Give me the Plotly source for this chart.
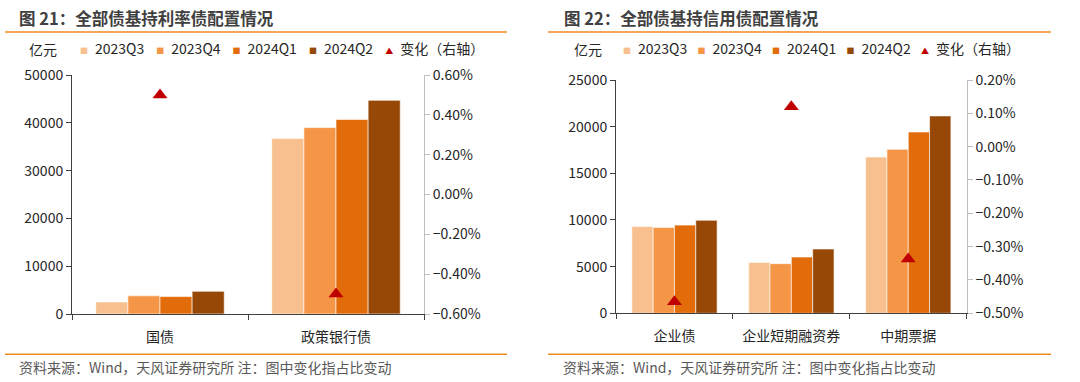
import plotly.graph_objects as go

# ---------------- data ----------------
periods = ["2023Q3", "2023Q4", "2024Q1", "2024Q2"]
colors = ["#F8C08E", "#F59646", "#E36C0A", "#974807"]
change_name = "变化（右轴）"

rate_cats = ["国债", "政策银行债"]
rate_2023Q3 = [2500, 36700]
rate_2023Q4 = [3800, 39000]
rate_2024Q1 = [3650, 40700]
rate_2024Q2 = [4750, 44700]
rate_change = [0.0050, -0.0050]

credit_cats = ["企业债", "企业短期融资券", "中期票据"]
credit_2023Q3 = [9300, 5450, 16750]
credit_2023Q4 = [9200, 5320, 17570]
credit_2024Q1 = [9450, 6030, 19430]
credit_2024Q2 = [9970, 6890, 21150]
credit_change = [-0.00465, 0.0012, -0.00337]

left_ticks = [0, 10000, 20000, 30000, 40000, 50000]
right_ticks_rate = [-0.006, -0.004, -0.002, 0, 0.002, 0.004, 0.006]
right_ticks_credit = [-0.005, -0.004, -0.003, -0.002, -0.001, 0, 0.001, 0.002]
left_ticks_credit = [0, 5000, 10000, 15000, 20000, 25000]

FONT = "Noto Sans CJK SC"
TXT = "#262626"
RED = "#C00000"

fig = go.Figure()

rate_series = [rate_2023Q3, rate_2023Q4, rate_2024Q1, rate_2024Q2]
credit_series = [credit_2023Q3, credit_2023Q4, credit_2024Q1, credit_2024Q2]

for name, vals, c in zip(periods, rate_series, colors):
    fig.add_trace(go.Bar(x=rate_cats, y=vals, name=name, marker=dict(color=c, line=dict(width=0.6, color="white")),
                         xaxis="x", yaxis="y", showlegend=False))
fig.add_trace(go.Scatter(x=rate_cats, y=rate_change, mode="markers", name=change_name,
                         marker=dict(symbol="triangle-up", size=13, color=RED),
                         xaxis="x", yaxis="y2", showlegend=False))

for name, vals, c in zip(periods, credit_series, colors):
    fig.add_trace(go.Bar(x=credit_cats, y=vals, name=name, marker=dict(color=c, line=dict(width=0.6, color="white")),
                         xaxis="x3", yaxis="y3", showlegend=False))
fig.add_trace(go.Scatter(x=credit_cats, y=credit_change, mode="markers", name=change_name,
                         marker=dict(symbol="triangle-up", size=13, color=RED),
                         xaxis="x3", yaxis="y4", showlegend=False))


def legend_label(glyph, color, text):
    return f'<span style="color:{color};font-size:8px">{glyph}</span>\u2002{text}'


# legend-only entries (one legend per panel); the key symbol is drawn inside the label
for lg in ["legend", "legend2"]:
    for name, c in zip(periods, colors):
        fig.add_trace(go.Scatter(x=[None], y=[None], mode="markers", name=legend_label("■", c, name),
                                 marker=dict(symbol="square", size=1, color="rgba(0,0,0,0)"), legend=lg))
    fig.add_trace(go.Scatter(x=[None], y=[None], mode="markers", name=legend_label("▲", RED, change_name),
                             marker=dict(symbol="triangle-up", size=1, color="rgba(0,0,0,0)"), legend=lg))
    # transparent trailing spacer so the last label is not clipped
    fig.add_trace(go.Scatter(x=[None], y=[None], mode="markers", name=" ", hoverinfo="skip",
                             marker=dict(size=1, color="rgba(0,0,0,0)"), legend=lg))

axis_common = dict(showgrid=False, zeroline=False, tickfont=dict(family=FONT, size=14, color=TXT))
yd1 = [68/382, 307/382]
yd2 = [68.7/382, 302/382]
LY = (382-49)/382
leg_common = dict(orientation="h", yanchor="middle", xanchor="left", y=LY, itemwidth=30,
                  font=dict(family=FONT, size=14, color=TXT), bgcolor="rgba(0,0,0,0)", tracegroupgap=0)

fig.update_layout(
    width=1080, height=382, margin=dict(l=0, r=0, t=0, b=0, autoexpand=False),
    paper_bgcolor="white", plot_bgcolor="white",
    font=dict(family=FONT, color=TXT),
    barmode="group", bargap=0.27, bargroupgap=0,
    xaxis=dict(domain=[72/1080, 424/1080], anchor="y", showline=True, linecolor="#404040", linewidth=1,
               ticks="outside", tickson="boundaries", ticklen=5, tickcolor="#404040",
               ticklabelstandoff=10, **axis_common),
    yaxis=dict(domain=yd1, anchor="x", range=[0, 50000], tickvals=left_ticks, tickformat="d", showline=True,
               linecolor="#404040", ticks="outside", ticklen=5, tickcolor="#404040", **axis_common),
    yaxis2=dict(domain=yd1, anchor="x", overlaying="y", side="right", range=[-0.006, 0.006],
                tickvals=right_ticks_rate, tickformat=".2%", showline=True, linecolor="#BFBFBF",
                ticks="outside", ticklen=5, tickcolor="#BFBFBF", **axis_common),
    xaxis3=dict(domain=[616/1080, 966.7/1080], anchor="y3", showline=True, linecolor="#404040", linewidth=1,
                ticks="outside", tickson="boundaries", ticklen=5, tickcolor="#404040",
                ticklabelstandoff=10, **axis_common),
    yaxis3=dict(domain=yd2, anchor="x3", range=[0, 25000], tickvals=left_ticks_credit, tickformat="d", showline=True,
                linecolor="#404040", ticks="outside", ticklen=5, tickcolor="#404040", **axis_common),
    yaxis4=dict(domain=yd2, anchor="x3", overlaying="y3", side="right", range=[-0.005, 0.002],
                tickvals=right_ticks_credit, tickformat=".2%", showline=True, linecolor="#BFBFBF",
                ticks="outside", ticklen=5, tickcolor="#BFBFBF", **axis_common),
    legend=dict(x=40/1080, entrywidth=31.3, **leg_common),
    legend2=dict(x=583/1080, entrywidth=29.5, **leg_common),
)

annots = [
    dict(text="<b>图 21：全部债基持利率债配置情况</b>", x=17/1080, y=(382-18)/382, xanchor="left", yanchor="middle",
         font=dict(size=16.5, color="#404040")),
    dict(text="<b>图 22：全部债基持信用债配置情况</b>", x=562/1080, y=(382-18)/382, xanchor="left", yanchor="middle",
         font=dict(size=16.5, color="#404040")),
    dict(text="亿元", x=27/1080, y=LY, xanchor="left", yanchor="middle", font=dict(size=14, color=TXT)),
    dict(text="亿元", x=572/1080, y=LY, xanchor="left", yanchor="middle", font=dict(size=14, color=TXT)),
    dict(text="资料来源：Wind，天风证券研究所 注：图中变化指占比变动", x=17/1080, y=(382-366.5)/382,
         xanchor="left", yanchor="middle", font=dict(size=14, color="#595959")),
    dict(text="资料来源：Wind，天风证券研究所 注：图中变化指占比变动", x=561/1080, y=(382-366.5)/382,
         xanchor="left", yanchor="middle", font=dict(size=14, color="#595959")),
]
for a in annots:
    a.update(xref="paper", yref="paper", showarrow=False)
    a["font"]["family"] = FONT
fig.update_layout(annotations=annots)

ORANGE = "#F08A24"
for x0, x1, yy in [(5, 507, 32), (548, 1051, 32), (5, 507, 354.3), (548, 1051, 354.3)]:
    fig.add_shape(type="line", xref="paper", yref="paper", x0=x0/1080, x1=x1/1080,
                  y0=(382-yy)/382, y1=(382-yy)/382, line=dict(color=ORANGE, width=1.5))

fig.write_html("out.html", config={"displayModeBar": False},
               post_script="document.body.style.margin='0';document.body.style.overflow='hidden';")
